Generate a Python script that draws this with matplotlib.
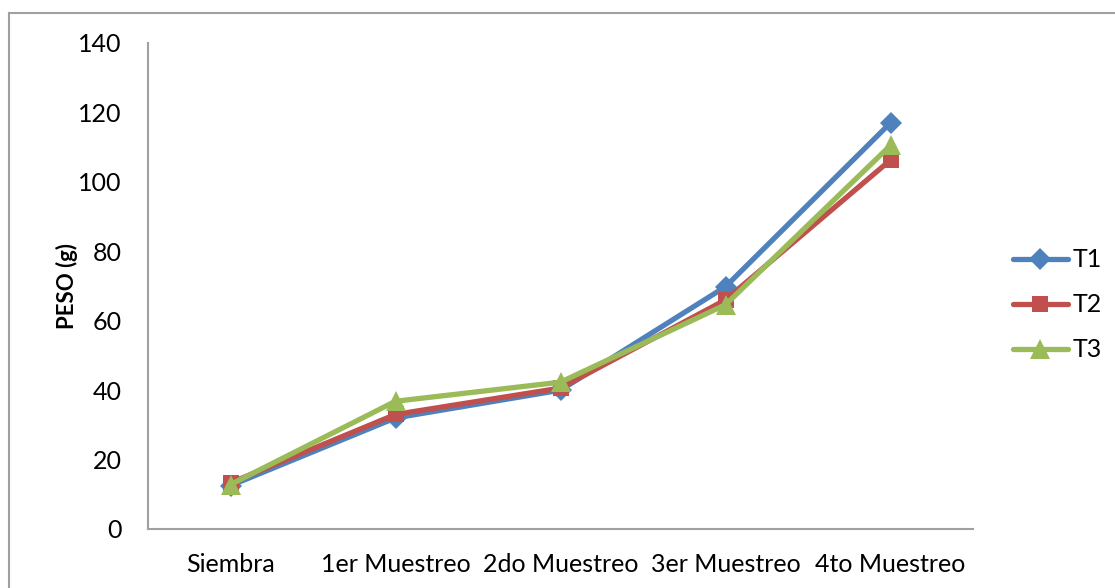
import matplotlib
matplotlib.use("Agg")
import matplotlib.pyplot as plt
from matplotlib.lines import Line2D

plt.rcParams['font.family'] = ['Lato', 'DejaVu Sans']

categories = ["Siembra", "1er Muestreo", "2do Muestreo", "3er Muestreo", "4to Muestreo"]
t1 = [12.5, 32.0, 40.0, 69.8, 117.0]
t2 = [13.3, 33.0, 40.6, 66.0, 106.3]
t3 = [12.8, 36.8, 42.3, 64.6, 110.5]
series_names = ["T1", "T2", "T3"]
y_ticks = [0, 20, 40, 60, 80, 100, 120, 140]

W, H = 1115, 588
fig = plt.figure(figsize=(W / 100, H / 100), dpi=100)

# outer frame (top and left edges visible)
fig.add_artist(Line2D([9 / W, 9 / W], [0, 1 - 13 / H], transform=fig.transFigure,
                      color="#a0a0a0", lw=1.5))
fig.add_artist(Line2D([9 / W, 1], [1 - 13 / H, 1 - 13 / H], transform=fig.transFigure,
                      color="#a0a0a0", lw=1.5))

ax = fig.add_axes([148 / W, 1 - 529 / H, (973 - 148) / W, (529 - 43) / H])

x = list(range(len(categories)))
styles = [
    (t1, "#4F81BD", "D", 11),
    (t2, "#C0504D", "s", 12),
    (t3, "#9BBB59", "^", 14),
]
for (vals, col, mk, ms), name in zip(styles, series_names):
    ax.plot(x, vals, color=col, lw=3.8, marker=mk, markersize=ms,
            markeredgewidth=0, label=name, solid_capstyle="round")

ax.set_xlim(-0.5, len(categories) - 0.5)
ax.set_ylim(0, 140)
ax.set_yticks(y_ticks)
ax.set_xticks(x)
ax.set_xticklabels(categories)
ax.tick_params(axis="both", length=0, labelsize=18, colors="black")
ax.tick_params(axis="y", pad=19)
ax.tick_params(axis="x", pad=17)
for s in ["top", "right"]:
    ax.spines[s].set_visible(False)
for s in ["left", "bottom"]:
    ax.spines[s].set_color("#a0a0a0")
    ax.spines[s].set_linewidth(1.5)

ax.set_ylabel("PESO (g)", fontsize=16, fontweight="bold", labelpad=0)

leg = ax.legend(loc="center left", bbox_to_anchor=(1.048, 0.461), frameon=False,
                fontsize=18, handlelength=2.2, labelspacing=0.88, handletextpad=0.2,
                borderpad=0, borderaxespad=0)

fig.savefig("out.png", dpi=100)
